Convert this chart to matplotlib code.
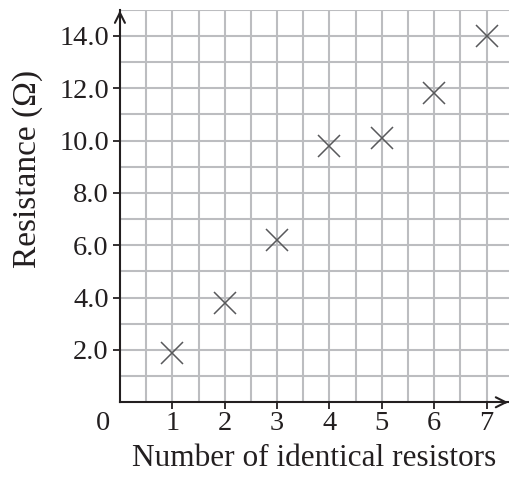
import matplotlib
matplotlib.use("Agg")
import matplotlib.pyplot as plt
import numpy as np

# data
n_resistors = [1, 2, 3, 4, 5, 6, 7]
resistance = [1.9, 3.8, 6.2, 9.8, 10.1, 11.8, 14.0]
y_ticks = [2.0, 4.0, 6.0, 8.0, 10.0, 12.0, 14.0]
x_ticks = [1, 2, 3, 4, 5, 6, 7]

plt.rcParams['font.family'] = ['Liberation Serif', 'DejaVu Serif']
axis_col = '#231f20'
grid_col = '#bcbdc0'

fig = plt.figure(figsize=(5.09, 4.78), dpi=100)
ax = fig.add_axes([0.2356, 0.1584, 0.772, 0.8213])

# grid paper
for gx in np.arange(0.5, 7.6, 0.5):
    ax.axvline(gx, color=grid_col, lw=1.5, zorder=0)
for gy in np.arange(1.0, 15.1, 1.0):
    ax.axhline(gy, color=grid_col, lw=1.5, zorder=0)

ax.plot(n_resistors, resistance, linestyle='none', marker='x',
        markersize=16.5, markeredgewidth=1.1, color='#58595b', zorder=3)

ax.set_xlim(0, 7.5)
ax.set_ylim(0, 15)
ax.set_xticks(x_ticks)
ax.set_xticklabels([str(v) for v in x_ticks])
ax.set_yticks(y_ticks)
ax.set_yticklabels([f'{v:.1f}' for v in y_ticks])
ax.tick_params(axis='both', labelsize=20.5, colors=axis_col, length=5, width=1.3, pad=3)
ax.tick_params(axis='x', pad=1)

for side in ['top', 'right']:
    ax.spines[side].set_visible(False)
for side in ['left', 'bottom']:
    ax.spines[side].set_color(axis_col)
    ax.spines[side].set_linewidth(1.5)

# axis arrows
ax.annotate('', xy=(0, 1.005), xytext=(0, 0.98), xycoords='axes fraction',
            arrowprops=dict(arrowstyle='->', color=axis_col, lw=1.5, mutation_scale=18))
ax.annotate('', xy=(0.995, 0), xytext=(0.97, 0), xycoords='axes fraction',
            arrowprops=dict(arrowstyle='->', color=axis_col, lw=1.5, mutation_scale=18))

ax.text(-0.33, -0.8, '0', fontsize=20.5, color=axis_col, ha='center', va='center',
        clip_on=False)

ax.set_xlabel('Number of identical resistors', fontsize=22.5, color=axis_col)
ax.xaxis.set_label_coords(0.494, -0.105)
ax.set_ylabel('Resistance (\u03a9)', fontsize=24, color=axis_col)
ax.yaxis.set_label_coords(-0.195, 0.594)

fig.savefig('out.png', dpi=100)
